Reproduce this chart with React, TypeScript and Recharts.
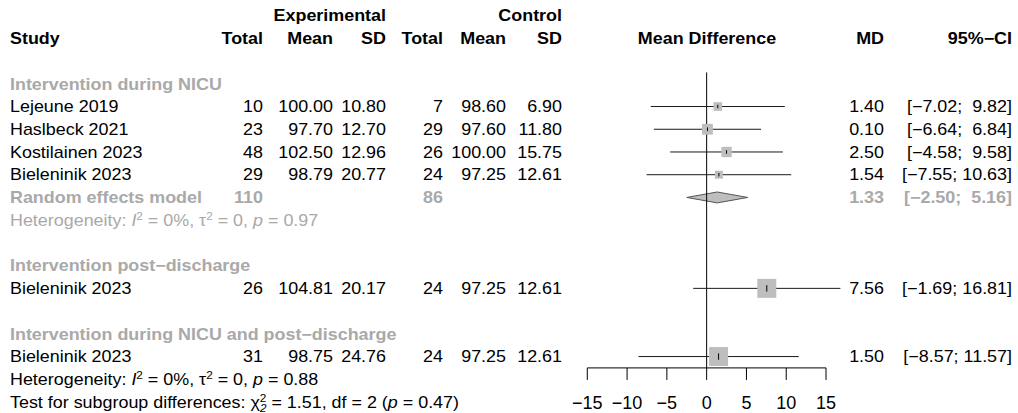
import {
  ScatterChart,
  Scatter,
  XAxis,
  YAxis,
  ErrorBar,
  ReferenceLine,
  ReferenceArea,
} from "recharts";

// ---- data ----
const groupNames = [
  "Intervention during NICU",
  "Intervention post\u2212discharge",
  "Intervention during NICU and post\u2212discharge",
];
const studyNames = [
  "Lejeune 2019",
  "Haslbeck 2021",
  "Kostilainen 2023",
  "Bieleninik 2023",
  "Bieleninik 2023",
  "Bieleninik 2023",
];
const studyGroup = [0, 0, 0, 0, 1, 2];
const expTotal = [10, 23, 48, 29, 26, 31];
const expMean = [100.0, 97.7, 102.5, 98.79, 104.81, 98.75];
const expSD = [10.8, 12.7, 12.96, 20.77, 20.17, 24.76];
const ctrlTotal = [7, 29, 26, 24, 24, 24];
const ctrlMean = [98.6, 97.6, 100.0, 97.25, 97.25, 97.25];
const ctrlSD = [6.9, 11.8, 15.75, 12.61, 12.61, 12.61];
const md = [1.4, 0.1, 2.5, 1.54, 7.56, 1.5];
const ciLow = [-7.02, -6.64, -4.58, -7.55, -1.69, -8.57];
const ciHigh = [9.82, 6.84, 9.58, 10.63, 16.81, 11.57];
const weight = [20.6, 32.4, 29.4, 17.6, 100, 100]; // % within subgroup

// random effects model (only subgroup 0 has more than one study)
const pooledGroup = [0];
const pooledMD = [1.33];
const pooledLow = [-2.5];
const pooledHigh = [5.16];
const pooledExpN = [110];
const pooledCtrlN = [86];
const pooledI2 = ["0%"];
const pooledTau2 = ["0"];
const pooledP = ["0.97"];

const overallHet = { i2: "0%", tau2: "0", p: "0.88" };
const subgroupTest = { chi2: "1.51", df: "2", p: "0.47" };

const xTicks = [-15, -10, -5, 0, 5, 10, 15];

// ---- layout ----
const W = 1018;
const H = 413;
const ROW0 = 15.6;
const ROW_H = 22.73;
const rowY = (r: number) => ROW0 + ROW_H * r;
const Y_DOMAIN: [number, number] = [2.5, 15.5];
const X_DOMAIN: [number, number] = [-20, 20];
const ZERO_X = 706.65;
const UNIT = 7.957;
const FONT = '"Liberation Sans", Arial, Helvetica, sans-serif';
const FS = 16;
const SX = 1.12;
const BASE = 0.358 * FS;
const GRAY = "#a9a9a9";
const SQ_MAX = 19;

const COL = {
  study: 10,
  eTot: 263,
  eMean: 333,
  eSD: 386,
  cTot: 443,
  cMean: 506,
  cSD: 562,
  mdHead: 707,
  md: 884,
  ci: 1012,
};

const fmt = (v: number) => (v < 0 ? "\u2212" + (-v).toFixed(2) : v.toFixed(2));
const ciText = (lo: number, hi: number) =>
  `[${fmt(lo).padStart(5, " ")}; ${fmt(hi).padStart(5, " ")}]`;

type Row = { kind: string; idx: number; r: number };
function buildRows() {
  const rows: Row[] = [];
  let r = 3;
  groupNames.forEach((_, gi) => {
    rows.push({ kind: "group", idx: gi, r: r++ });
    studyGroup.forEach((g, si) => {
      if (g === gi) rows.push({ kind: "study", idx: si, r: r++ });
    });
    const pi = pooledGroup.indexOf(gi);
    if (pi >= 0) {
      rows.push({ kind: "pooled", idx: pi, r: r++ });
      rows.push({ kind: "het", idx: pi, r: r++ });
    }
    if (gi < groupNames.length - 1) r++;
  });
  rows.push({ kind: "overallHet", idx: 0, r: r++ });
  rows.push({ kind: "test", idx: 0, r: r++ });
  return rows;
}

function T({
  x,
  r,
  anchor = "end",
  bold = false,
  color = "#000",
  children,
}: {
  x: number;
  r: number;
  anchor?: "start" | "middle" | "end";
  bold?: boolean;
  color?: string;
  children: React.ReactNode;
}) {
  return (
    <text
      x={x / SX}
      y={rowY(r) + BASE}
      textAnchor={anchor}
      fontWeight={bold ? "bold" : "normal"}
      fill={color}
      style={{ whiteSpace: "pre" }}
    >
      {children}
    </text>
  );
}

function Het({ r, i2, tau2, p, color }: { r: number; i2: string; tau2: string; p: string; color: string }) {
  return (
    <T x={COL.study} r={r} anchor="start" color={color}>
      {"Heterogeneity: "}
      <tspan fontStyle="italic">I</tspan>
      <tspan dy={-6} fontSize={10.5}>2</tspan>
      <tspan dy={6}>{` = ${i2}, \u03c4`}</tspan>
      <tspan dy={-6} fontSize={10.5}>2</tspan>
      <tspan dy={6}>{` = ${tau2}, `}</tspan>
      <tspan fontStyle="italic">p</tspan>
      {` = ${p}`}
    </T>
  );
}

const Square = (props: any) => {
  const { cx, cy, payload } = props;
  const s = SQ_MAX * Math.sqrt(payload.w / 100);
  return <rect x={cx - s / 2} y={cy - s / 2} width={s} height={s} fill="#bebebe" />;
};

const Mark = (props: any) => {
  const { cx, cy, payload } = props;
  const s = SQ_MAX * Math.sqrt(payload.w / 100);
  const h = Math.max(3.5, s * 0.34);
  return <line x1={cx} x2={cx} y1={cy - h / 2} y2={cy + h / 2} stroke="#000" strokeWidth={1} />;
};

const Diamond = (props: any) => {
  const { x, y, width, height } = props;
  const cx = x + width / 2;
  const cy = y + height / 2;
  return (
    <polygon
      points={`${x},${cy} ${cx},${y} ${x + width},${cy} ${cx},${y + height}`}
      fill="#bebebe"
      stroke="#555"
      strokeWidth={1}
    />
  );
};

export default function App() {
  const rows = buildRows();
  const studyRow: number[] = [];
  const pooledRow: number[] = [];
  rows.forEach((row) => {
    if (row.kind === "study") studyRow[row.idx] = row.r;
    if (row.kind === "pooled") pooledRow[row.idx] = row.r;
  });

  const data = md.map((m, i) => ({
    x: m,
    y: studyRow[i],
    err: [m - ciLow[i], ciHigh[i] - m],
    w: weight[i],
  }));

  const plotTop = rowY(Y_DOMAIN[0]);
  const plotBottom = rowY(Y_DOMAIN[1]);
  const left = ZERO_X + X_DOMAIN[0] * UNIT;
  const right = ZERO_X + X_DOMAIN[1] * UNIT;
  const xAxisH = 40;

  return (
    <div style={{ position: "absolute", left: 0, top: 0, width: W, height: H, background: "#fff" }}>
      <ScatterChart
        width={W}
        height={H}
        margin={{ top: plotTop, bottom: H - plotBottom - xAxisH, left, right: W - right }}
      >
        <XAxis
          type="number"
          dataKey="x"
          domain={X_DOMAIN}
          ticks={xTicks}
          interval={0}
          axisLine={false}
          tickLine={{ stroke: "#000" }}
          tickSize={12}
          tickMargin={16}
          height={xAxisH}
          tick={{ fill: "#000", fontSize: 18, fontFamily: FONT }}
          tickFormatter={(v: number) => (v < 0 ? "\u2212" + -v : String(v))}
        />
        <YAxis type="number" dataKey="y" domain={Y_DOMAIN} reversed hide />
        <ReferenceLine x={0} stroke="#000" strokeWidth={1} ifOverflow="visible" />
        <ReferenceLine
          segment={[
            { x: xTicks[0], y: Y_DOMAIN[1] },
            { x: xTicks[xTicks.length - 1], y: Y_DOMAIN[1] },
          ]}
          stroke="#000"
          strokeWidth={1}
          ifOverflow="visible"
        />
        {pooledMD.map((_, i) => (
          <ReferenceArea
            key={i}
            x1={pooledLow[i]}
            x2={pooledHigh[i]}
            y1={pooledRow[i] - 0.24}
            y2={pooledRow[i] + 0.24}
            ifOverflow="visible"
            shape={Diamond}
          />
        ))}
        <Scatter data={data} shape={Square} isAnimationActive={false} />
        <Scatter data={data} shape={Mark} isAnimationActive={false}>
          <ErrorBar dataKey="err" direction="x" width={0} stroke="#1a1a1a" strokeWidth={1} />
        </Scatter>
      </ScatterChart>

      <svg
        width={W}
        height={H}
        style={{ position: "absolute", left: 0, top: 0, pointerEvents: "none" }}
        fontFamily={FONT}
        fontSize={FS}
      >
        <g transform={`scale(${SX},1)`}>
          <T x={COL.eSD} r={0} bold>Experimental</T>
          <T x={COL.cSD} r={0} bold>Control</T>
          <T x={COL.study} r={1} anchor="start" bold>Study</T>
          <T x={COL.eTot} r={1} bold>Total</T>
          <T x={COL.eMean} r={1} bold>Mean</T>
          <T x={COL.eSD} r={1} bold>SD</T>
          <T x={COL.cTot} r={1} bold>Total</T>
          <T x={COL.cMean} r={1} bold>Mean</T>
          <T x={COL.cSD} r={1} bold>SD</T>
          <T x={COL.mdHead} r={1} anchor="middle" bold>Mean Difference</T>
          <T x={COL.md} r={1} bold>MD</T>
          <T x={COL.ci} r={1} bold>95%{"\u2212"}CI</T>

          {rows.map((row) => {
            const r = row.r;
            const i = row.idx;
            if (row.kind === "group")
              return (
                <T key={`g${i}`} x={COL.study} r={r} anchor="start" bold color={GRAY}>
                  {groupNames[i]}
                </T>
              );
            if (row.kind === "study")
              return (
                <g key={`s${i}`}>
                  <T x={COL.study} r={r} anchor="start">{studyNames[i]}</T>
                  <T x={COL.eTot} r={r}>{expTotal[i]}</T>
                  <T x={COL.eMean} r={r}>{expMean[i].toFixed(2)}</T>
                  <T x={COL.eSD} r={r}>{expSD[i].toFixed(2)}</T>
                  <T x={COL.cTot} r={r}>{ctrlTotal[i]}</T>
                  <T x={COL.cMean} r={r}>{ctrlMean[i].toFixed(2)}</T>
                  <T x={COL.cSD} r={r}>{ctrlSD[i].toFixed(2)}</T>
                  <T x={COL.md} r={r}>{fmt(md[i])}</T>
                  <T x={COL.ci} r={r}>{ciText(ciLow[i], ciHigh[i])}</T>
                </g>
              );
            if (row.kind === "pooled")
              return (
                <g key={`p${i}`}>
                  <T x={COL.study} r={r} anchor="start" bold color={GRAY}>Random effects model</T>
                  <T x={COL.eTot} r={r} bold color={GRAY}>{pooledExpN[i]}</T>
                  <T x={COL.cTot} r={r} bold color={GRAY}>{pooledCtrlN[i]}</T>
                  <T x={COL.md} r={r} bold color={GRAY}>{fmt(pooledMD[i])}</T>
                  <T x={COL.ci} r={r} bold color={GRAY}>{ciText(pooledLow[i], pooledHigh[i])}</T>
                </g>
              );
            if (row.kind === "het")
              return <Het key={`h${i}`} r={r} i2={pooledI2[i]} tau2={pooledTau2[i]} p={pooledP[i]} color={GRAY} />;
            if (row.kind === "overallHet")
              return <Het key="oh" r={r} i2={overallHet.i2} tau2={overallHet.tau2} p={overallHet.p} color="#000" />;
            return (
              <T key="test" x={COL.study} r={r} anchor="start">
                {"Test for subgroup differences: \u03c7"}
                <tspan dy={-6} fontSize={10.5}>2</tspan>
                <tspan dx={-5.8} dy={10} fontSize={10.5} fontStyle="italic">{subgroupTest.df}</tspan>
                <tspan dy={-4}>{` = ${subgroupTest.chi2}, df = ${subgroupTest.df} (`}</tspan>
                <tspan fontStyle="italic">p</tspan>
                {` = ${subgroupTest.p})`}
              </T>
            );
          })}
        </g>
      </svg>
    </div>
  );
}
